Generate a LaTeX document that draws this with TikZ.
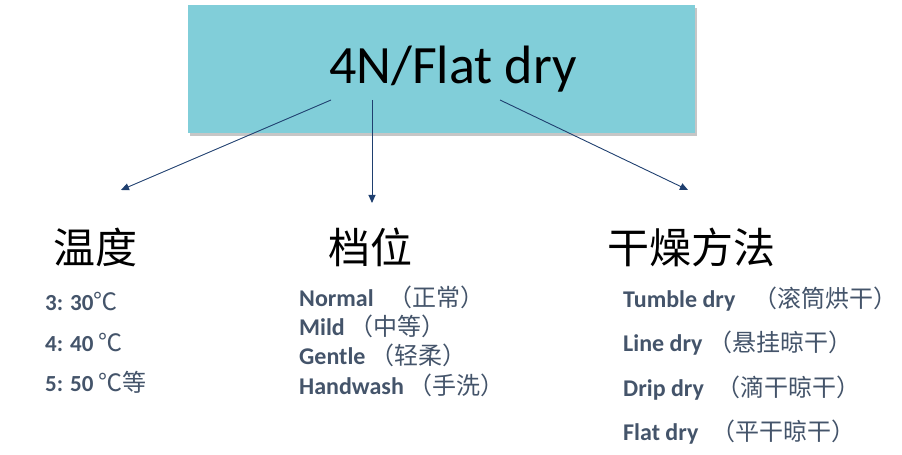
\documentclass[tikz,border=0pt]{standalone}
\usepackage{fontspec}
\setmainfont{Carlito}
\newfontfamily\cjk{Noto Sans CJK SC}
\usetikzlibrary{shadows,arrows.meta}
\definecolor{boxfill}{HTML}{81CED9}
\definecolor{arrowc}{HTML}{1F3F6F}
\definecolor{itemc}{HTML}{44546A}
\newcommand\cj[1]{{\cjk\mdseries\fontsize{24}{24}\selectfont #1}}
\begin{document}
\begin{tikzpicture}[x=1pt,y=1pt,
  titlebox/.style={fill=boxfill,draw=none,drop shadow={shadow xshift=2pt,shadow yshift=-3pt,opacity=0.45}},
  conn/.style={draw=arrowc,line width=0.9pt,-{Triangle[length=8pt,width=7pt]}},
  heading/.style={font=\cjk\fontsize{42}{42}\selectfont,text=black,inner sep=0pt},
  item/.style={anchor=west,font=\bfseries\fontsize{24}{24}\selectfont,text=itemc,inner sep=0pt},
  itemL/.style={item,font=\bfseries\fontsize{23}{23}\selectfont}]
\useasboundingbox (0,0) rectangle (902,455);
\node[titlebox,minimum width=507pt,minimum height=128pt] (box) at (441.5,386) {};
\node[font=\fontsize{54}{54}\selectfont,inner sep=0pt] (title) at (453,386) {4N/Flat dry};
\coordinate (sL) at (331,355);
\coordinate (sM) at (372,355);
\coordinate (sR) at (500,355);
\coordinate (eL) at (121,265);
\coordinate (eM) at (372,252);
\coordinate (eR) at (688,265);
\draw[conn] (sL) -- (eL);
\draw[conn] (sM) -- (eM);
\draw[conn] (sR) -- (eR);
\node[heading] (h1) at (95,208) {温度};
\node[heading] (h2) at (370,208) {档位};
\node[heading] (h3) at (691,208) {干燥方法};
\node[itemL] (a1) at (45,153) {3: 30\cj{℃}};
\node[itemL] (a2) at (45,112) {4: 40 \cj{℃}};
\node[itemL] (a3) at (45,73) {5: 50 \cj{℃等}};
\node[item] (b1) at (299,158) {Normal\hspace{15pt}\cj{（正常）}};
\node[item] (b2) at (299,129) {Mild\hspace{5pt}\cj{（中等）}};
\node[item] (b3) at (299,100) {Gentle\hspace{5pt}\cj{（轻柔）}};
\node[item] (b4) at (299,70) {Handwash\hspace{5pt}\cj{（手洗）}};
\node[item] (c1) at (623,156) {Tumble dry\hspace{18pt}\cj{（滚筒烘干）}};
\node[item] (c2) at (623,112) {Line dry\hspace{6pt}\cj{（悬挂晾干）}};
\node[item] (c3) at (623,67) {Drip dry\hspace{13pt}\cj{（滴干晾干）}};
\node[item] (c4) at (623,23) {Flat dry\hspace{13pt}\cj{（平干晾干）}};
\end{tikzpicture}
\end{document}
